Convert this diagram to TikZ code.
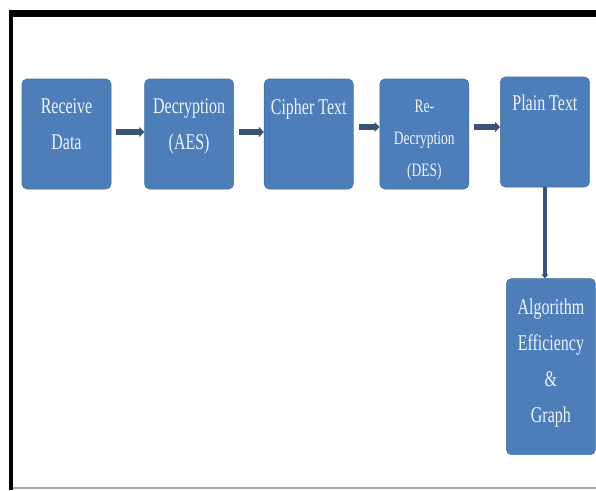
\documentclass[tikz,border=0pt]{standalone}
\usepackage{fontspec}
\setmainfont{Liberation Serif}[FakeStretch=0.71]
\usetikzlibrary{arrows.meta}
\usetikzlibrary{positioning}

\definecolor{boxblue}{HTML}{4D7EBA}
\definecolor{boxline}{HTML}{41709F}
\definecolor{linkblue}{HTML}{3A5275}
\definecolor{boxtext}{HTML}{EEF3FB}

% empty last line, moves the text of a box up or down
\newcommand{\padline}[1]{\\[#1]\mbox{}}

\tikzset{
  block/.style={rectangle, rounded corners=5pt, fill=boxblue, draw=boxline, line width=0.6pt,
                minimum width=89pt, minimum height=110pt, inner sep=0pt, align=center,
                text=boxtext, font=\fontsize{22.5}{36}\selectfont},
  link/.style={draw=linkblue, line width=6pt, -{Triangle[length=5pt,width=10pt]}, shorten <=5pt},
  drop/.style={draw=linkblue, line width=3.5pt, -{Triangle[length=4pt,width=7pt]}}
}

\begin{document}
\begin{tikzpicture}[x=1pt, y=-1pt]

                    \useasboundingbox (0,0) rectangle (596,490);
                    % frame
                    \fill[black] (9,10) rectangle (596,17);
                    \fill[black] (9,10) rectangle (13,490);
                    \draw[gray!70, line width=1.5pt] (13,488) -- (596,488);

                    \node[block] (rec) at (66.5,134) {Receive\\Data\padline{-17pt}};
                    \node[block] (aes) [right = 33pt of rec] {Decryption\\(AES)\padline{-17pt}};
                    \node[block] (cip) [right = 30pt of aes] {Cipher Text\padline{18pt}};
                    \node[block, font=\fontsize{19}{32}\selectfont] (des) [right = 26pt of cip] {Re-\\Decryption\\(DES)\padline{-40pt}};
                    \node[block] (pla) [right = 31pt of des, yshift=2pt] {Plain Text\padline{22pt}};

                    \node[block, minimum height=176pt] (alg) [below = 91pt of pla, xshift=6pt] {Algorithm\\Efficiency\\\&\\Graph\padline{-24pt}};

                    \path[link] ([yshift=2pt]rec.east) -- ([yshift=2pt]aes.west);
                    \path[link] ([yshift=2pt]aes.east) -- ([yshift=2pt]cip.west);
                    \path[link] ([yshift=7pt]cip.east) -- ([yshift=7pt]des.west);
                    \path[link] ([yshift=7pt]des.east) -- ([yshift=7pt]des.east -| pla.west);
                    \path[drop] (pla.south) -- (pla.south |- alg.north);

\end{tikzpicture}
\end{document}
